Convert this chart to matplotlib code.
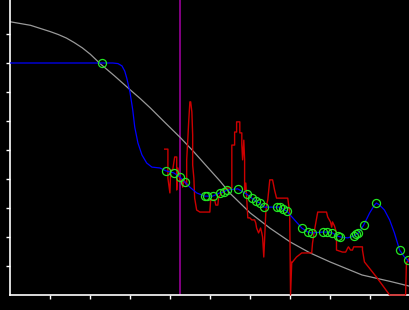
import numpy as np
import matplotlib
matplotlib.use("Agg")
import matplotlib.pyplot as plt

# grey reference curve
grey_x = [-0.3, 0.0, 0.5, 1.0, 1.2, 1.4, 1.6, 1.8, 2.0, 2.25, 2.6, 3.0, 3.25, 3.5,
          3.85, 4.25, 4.6, 4.95, 5.25, 5.5, 6.0, 6.5, 7.0, 7.5, 8.0, 8.8, 9.5, 10.0]
grey_y = [9.52, 9.42, 9.30, 9.08, 8.98, 8.86, 8.70, 8.52, 8.30, 7.97, 7.56, 7.07,
          6.77, 6.45, 5.97, 5.43, 4.92, 4.38, 3.92, 3.50, 2.83, 2.30, 1.83, 1.45,
          1.14, 0.69, 0.47, 0.30]

# blue smoothed curve
blue_x = [0.0, 2.29, 2.56, 2.69, 2.79, 2.86, 2.91, 2.99, 3.06, 3.11, 3.19, 3.29,
          3.41, 3.54, 3.74, 3.89, 4.09, 4.24, 4.36, 4.49, 4.66, 4.86, 4.91, 5.06,
          5.24, 5.34, 5.41, 5.69, 5.91, 6.04, 6.14, 6.24, 6.34, 6.66, 6.74, 6.81,
          6.91, 7.29, 7.44, 7.54, 7.81, 7.91, 8.06, 8.19, 8.26, 8.44, 8.59, 8.66,
          8.71, 8.84, 8.99, 9.11, 9.16, 9.24, 9.36, 9.49, 9.61, 9.74, 9.86, 9.94,
          10.0]
blue_y = [8.0, 8.0, 8.0, 7.98, 7.90, 7.72, 7.48, 7.00, 6.38, 5.79, 5.24, 4.83,
          4.55, 4.41, 4.38, 4.28, 4.21, 4.07, 3.90, 3.72, 3.52, 3.41, 3.41, 3.41,
          3.52, 3.55, 3.62, 3.66, 3.48, 3.34, 3.24, 3.17, 3.03, 3.03, 3.03, 2.97,
          2.90, 2.31, 2.17, 2.14, 2.17, 2.17, 2.14, 2.03, 2.00, 1.97, 2.03, 2.10,
          2.14, 2.41, 2.83, 3.10, 3.17, 3.10, 2.93, 2.59, 2.14, 1.55, 1.31, 1.21,
          1.10]

# green sample points
pts_x = [2.29, 3.89, 4.09, 4.24, 4.36, 4.86, 4.91, 5.06, 5.24, 5.34, 5.41, 5.69,
         5.91, 6.04, 6.14, 6.24, 6.34, 6.66, 6.74, 6.81, 6.91, 7.29, 7.44, 7.54,
         7.81, 7.91, 8.06, 8.19, 8.26, 8.59, 8.66, 8.71, 8.84, 9.16, 9.74, 9.94]
pts_y = [8.00, 4.28, 4.21, 4.07, 3.90, 3.41, 3.41, 3.41, 3.52, 3.55, 3.62, 3.66,
         3.48, 3.34, 3.24, 3.17, 3.03, 3.03, 3.03, 2.97, 2.90, 2.31, 2.17, 2.14,
         2.17, 2.17, 2.14, 2.03, 2.00, 2.03, 2.10, 2.14, 2.41, 3.17, 1.55, 1.21]

# red raw measurement
red_x = [3.86, 3.94, 3.94, 3.99, 4.01, 4.06, 4.11, 4.16, 4.16, 4.19, 4.24, 4.29,
         4.31, 4.34, 4.41, 4.41, 4.44, 4.46, 4.49, 4.51, 4.54, 4.56, 4.56, 4.59,
         4.61, 4.66, 4.74, 4.99, 5.01, 5.11, 5.14, 5.19, 5.21, 5.31, 5.39, 5.44,
         5.54, 5.54, 5.61, 5.61, 5.66, 5.66, 5.74, 5.74, 5.79, 5.79, 5.81, 5.84,
         5.86, 5.86, 5.89, 5.94, 5.99, 6.04, 6.11, 6.14, 6.16, 6.21, 6.26, 6.29,
         6.31, 6.34, 6.36, 6.39, 6.41, 6.44, 6.49, 6.56, 6.61, 6.66, 6.94, 6.99,
         6.99, 7.01, 7.04, 7.06, 7.16, 7.29, 7.54, 7.56, 7.61, 7.69, 7.91, 7.94,
         8.01, 8.04, 8.06, 8.11, 8.16, 8.16, 8.31, 8.39, 8.44, 8.46, 8.51, 8.56,
         8.59, 8.81, 8.81, 8.86, 9.16, 9.49, 9.89, 9.91, 9.99]
red_y = [5.03, 5.03, 4.03, 3.52, 4.31, 4.31, 4.76, 4.76, 3.62, 4.38, 3.97, 3.97,
         3.72, 3.97, 3.79, 4.66, 5.41, 5.97, 6.66, 6.66, 6.31, 5.52, 4.48, 4.03,
         3.34, 2.93, 2.86, 2.86, 3.28, 3.28, 3.10, 3.10, 3.38, 3.55, 3.69, 3.69,
         3.69, 5.17, 5.17, 5.62, 5.62, 5.97, 5.97, 5.59, 5.59, 5.17, 4.66, 5.34,
         4.66, 3.62, 3.86, 2.66, 2.66, 2.59, 2.59, 2.48, 2.31, 2.14, 2.31, 2.14,
         2.00, 1.31, 1.90, 2.83, 3.10, 3.28, 3.97, 3.97, 3.62, 3.34, 3.34, 2.83,
         2.59, 0.00, 1.14, 1.14, 1.31, 1.45, 1.45, 1.79, 2.24, 2.86, 2.86, 2.69,
         2.52, 2.34, 2.52, 2.38, 2.14, 1.55, 1.48, 1.48, 1.62, 1.66, 1.55, 1.55,
         1.66, 1.66, 1.55, 1.14, 0.62, 0.00, 0.00, 1.10, 1.28]

marker_x = 4.25

fig = plt.figure(figsize=(4.1, 3.1), dpi=100, facecolor='black')
ax = fig.add_axes([10.5 / 410, 15 / 310, 399.5 / 410, 295 / 310])
ax.set_facecolor('black')

ax.axvline(marker_x, color='#990099', lw=1.2, zorder=1)
ax.plot(grey_x, grey_y, color='#999999', lw=0.9, zorder=2)
ax.plot(red_x, red_y, color='#cc0000', lw=1.0, zorder=3, clip_on=False)
ax.plot(blue_x, blue_y, color='#0000ff', lw=0.9, zorder=4)
ax.plot(pts_x, pts_y, 'o', mfc='none', mec='#22e622', ms=5.8, mew=0.9, zorder=5)

ax.set_xlim(0, 10)
ax.set_ylim(0, 295 / 29)
ax.set_xticks(range(1, 10))
ax.set_yticks(range(1, 10))
ax.set_xticklabels([])
ax.set_yticklabels([])
ax.tick_params(colors='white', direction='out', length=3, width=1)
for side in ['top', 'right']:
    ax.spines[side].set_visible(False)
for side in ['left', 'bottom']:
    ax.spines[side].set_color('white')
    ax.spines[side].set_linewidth(1.2)

plt.savefig('out.png', dpi=100, facecolor='black')
